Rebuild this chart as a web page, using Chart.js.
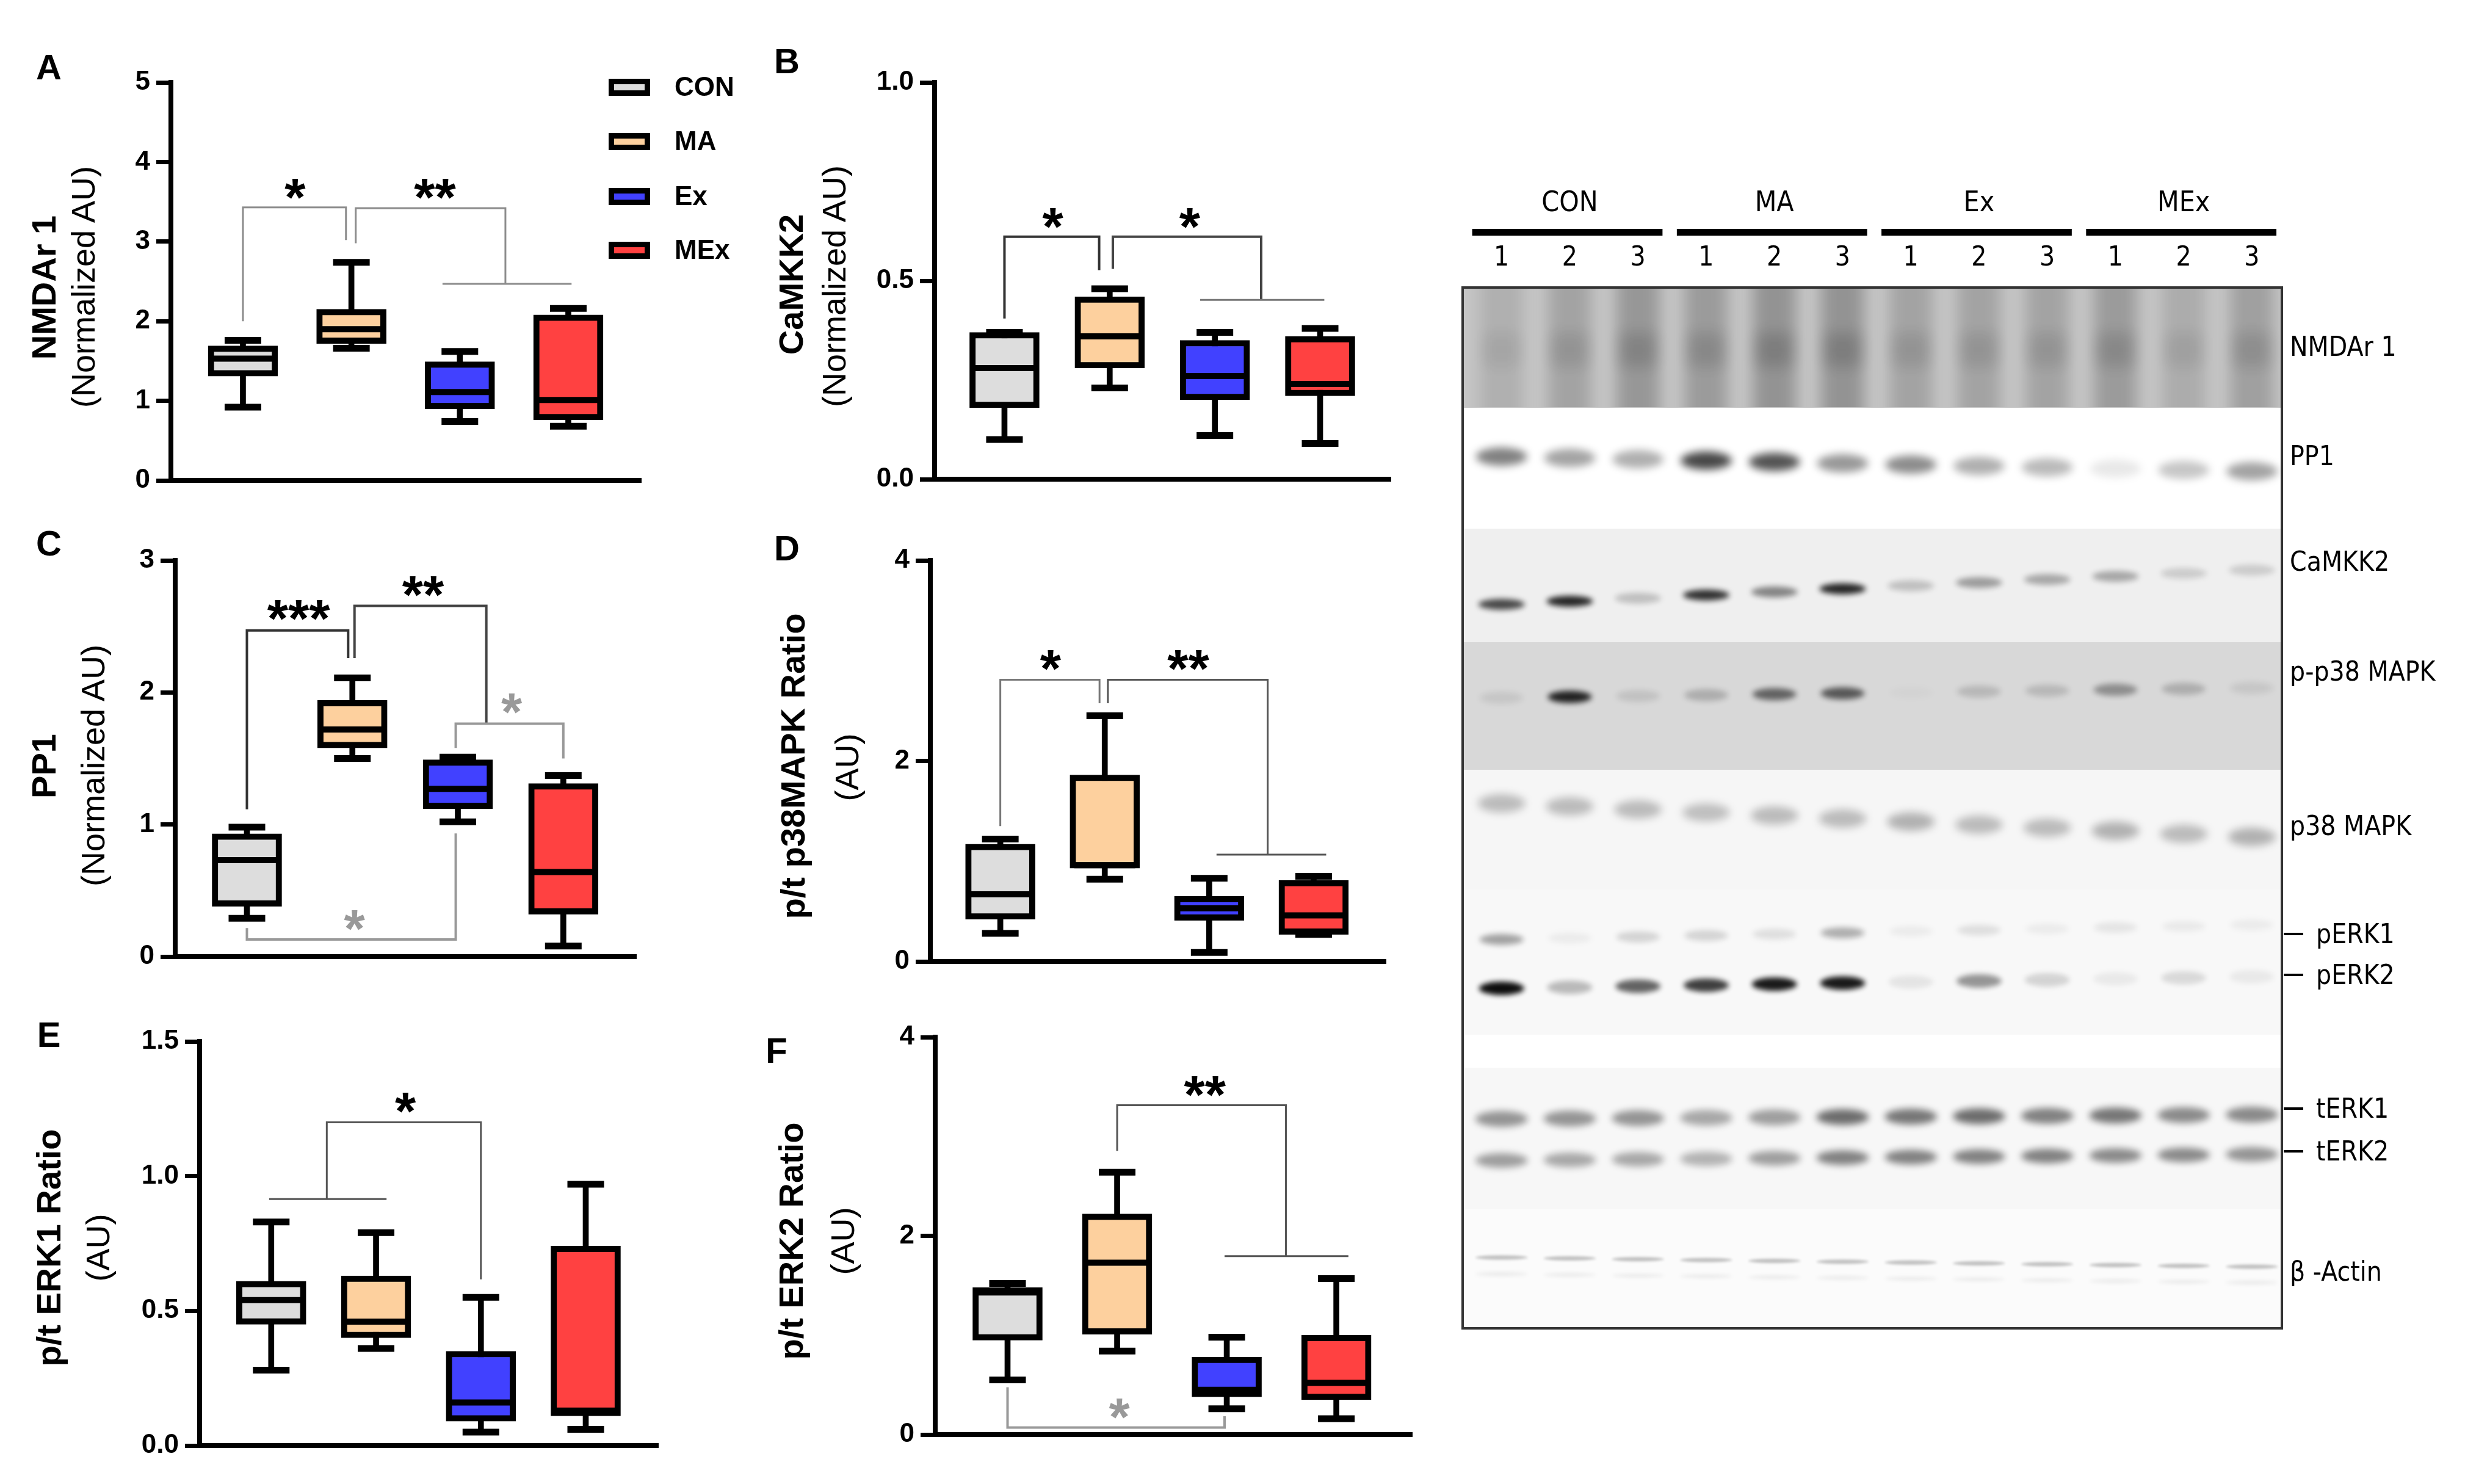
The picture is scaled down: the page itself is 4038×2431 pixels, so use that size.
<!DOCTYPE html>
<html>
<head>
<meta charset="utf-8">
<script src="https://cdn.jsdelivr.net/npm/chart.js@4.4.1/dist/chart.umd.min.js"></script>
<style>
html, body { margin: 0; padding: 0; background: #fff; }
body { width: 4038px; height: 2431px; position: relative; overflow: hidden; font-family: "Liberation Sans", Arial, sans-serif; }
.letter { position: absolute; font-weight: bold; font-size: 58px; line-height: 1; transform: translate(-50%, -50%); }
.ytitle { position: absolute; white-space: nowrap; line-height: 1; transform: translate(-50%, -50%) rotate(-90deg); }
.ytitle.b { font-weight: bold; font-size: 56px; }
.ytitle.n { font-size: 54px; }
</style>
</head>
<body>
<div class="letter" style="left:80px;top:110px">A</div>
<div class="letter" style="left:1289px;top:100px">B</div>
<div class="letter" style="left:80px;top:890px">C</div>
<div class="letter" style="left:1289px;top:898px">D</div>
<div class="letter" style="left:80px;top:1695px">E</div>
<div class="letter" style="left:1272px;top:1721px">F</div>

<div class="ytitle b" style="left:72px;top:471px">NMDAr 1</div>
<div class="ytitle n" style="left:136px;top:470px">(Normalized AU)</div>
<div class="ytitle b" style="left:1296px;top:466px">CaMKK2</div>
<div class="ytitle n" style="left:1366px;top:469px">(Normalized AU)</div>
<div class="ytitle b" style="left:72px;top:1255px">PP1</div>
<div class="ytitle n" style="left:152px;top:1254px">(Normalized AU)</div>
<div class="ytitle b" style="left:1299px;top:1255px">p/t p38MAPK Ratio</div>
<div class="ytitle n" style="left:1387px;top:1257px">(AU)</div>
<div class="ytitle b" style="left:80px;top:2044px">p/t ERK1 Ratio</div>
<div class="ytitle n" style="left:160px;top:2044px">(AU)</div>
<div class="ytitle b" style="left:1296px;top:2033px">p/t ERK2 Ratio</div>
<div class="ytitle n" style="left:1380px;top:2033px">(AU)</div>

<script>
// groups
const groups = ["CON", "MA", "Ex", "MEx"];
const groupColors = ["#dddddd", "#fdd09e", "#4141ff", "#ff4141"];

// box plots: [min, q1, median, q3, max] per group
const nmdar1 = [[0.92, 1.31, 1.53, 1.69, 1.76], [1.66, 1.72, 1.90, 2.15, 2.74], [0.74, 0.90, 1.11, 1.49, 1.62], [0.68, 0.76, 1.01, 2.08, 2.16]];
const camkk2 = [[0.10, 0.18, 0.28, 0.37, 0.37], [0.23, 0.28, 0.36, 0.46, 0.48], [0.11, 0.20, 0.26, 0.35, 0.37], [0.09, 0.21, 0.24, 0.36, 0.38]];
const pp1 = [[0.29, 0.38, 0.73, 0.93, 0.98], [1.50, 1.58, 1.72, 1.94, 2.11], [1.02, 1.12, 1.27, 1.49, 1.51], [0.08, 0.32, 0.64, 1.31, 1.37]];
const p38Ratio = [[0.28, 0.42, 0.67, 1.17, 1.22], [0.82, 0.93, 0.96, 1.86, 2.45], [0.09, 0.41, 0.53, 0.65, 0.83], [0.27, 0.27, 0.46, 0.81, 0.85]];
const erk1Ratio = [[0.28, 0.45, 0.54, 0.61, 0.83], [0.36, 0.40, 0.46, 0.63, 0.79], [0.05, 0.09, 0.16, 0.35, 0.55], [0.06, 0.11, 0.13, 0.74, 0.97]];
const erk2Ratio = [[0.55, 0.95, 1.43, 1.48, 1.52], [0.84, 1.01, 1.73, 2.22, 2.64], [0.26, 0.38, 0.45, 0.78, 0.98], [0.16, 0.35, 0.52, 1.00, 1.57]];

// significance brackets (group position, value) and stars
const nmdar1Brackets = [[[1, 2.0], [1, 3.43], [1.95, 3.43], [1.95, 3.02]], [[2.04, 2.98], [2.04, 3.42], [3.42, 3.42], [3.42, 2.47]], [[2.84, 2.47], [4.03, 2.47]]];
const nmdar1Stars = [["*", 1.48, 3.72], ["**", 2.77, 3.72]];
const camkk2Brackets = [[[1, 0.405], [1, 0.611], [1.90, 0.611], [1.90, 0.527]], [[2.03, 0.53], [2.03, 0.611], [3.44, 0.611], [3.44, 0.452]], [[2.86, 0.452], [4.04, 0.452]]];
const camkk2Stars = [["*", 1.46, 0.67], ["*", 2.76, 0.67]];
const pp1Brackets = [[[1, 1.115], [1, 2.47], [1.96, 2.47], [1.96, 2.26]], [[2.02, 2.26], [2.02, 2.656], [3.27, 2.656], [3.27, 1.764]], [[2.98, 1.58], [2.98, 1.764], [4.0, 1.764], [4.0, 1.50]], [[1, 0.216], [1, 0.13], [2.98, 0.13], [2.98, 0.933]]];
const pp1Stars = [["***", 1.49, 2.66], ["**", 2.67, 2.84], ["*", 3.51, 1.95], ["*", 2.02, 0.31]];
const p38Brackets = [[[1, 1.35], [1, 2.81], [1.95, 2.81], [1.95, 2.575]], [[2.03, 2.575], [2.03, 2.81], [3.56, 2.81], [3.56, 1.065]], [[3.07, 1.065], [4.12, 1.065]]];
const p38Stars = [["*", 1.48, 3.05], ["**", 2.80, 3.05]];
const erk1Brackets = [[[0.98, 0.915], [2.10, 0.915]], [[1.53, 0.915], [1.53, 1.2], [3.0, 1.2], [3.0, 0.617]]];
const erk1Stars = [["*", 2.28, 1.29]];
const erk2Brackets = [[[2.0, 2.855], [2.0, 3.315], [3.54, 3.315], [3.54, 1.796]], [[2.98, 1.796], [4.11, 1.796]], [[1, 0.476], [1, 0.07], [2.98, 0.07], [2.98, 0.184]]];
const erk2Stars = [["**", 2.80, 3.55], ["*", 2.02, 0.31]];

// western blot: band intensity per lane (0..1)
const laneLabels = ["1", "2", "3", "1", "2", "3", "1", "2", "3", "1", "2", "3"];
const nmdarBand = [0.25, 0.40, 0.55, 0.50, 0.60, 0.60, 0.40, 0.40, 0.40, 0.50, 0.30, 0.45];
const pp1Band = [0.55, 0.40, 0.35, 0.80, 0.75, 0.45, 0.50, 0.35, 0.30, 0.10, 0.25, 0.40];
const camkk2Band = [0.70, 0.85, 0.20, 0.80, 0.45, 0.85, 0.20, 0.35, 0.30, 0.30, 0.15, 0.15];
const pp38Band = [0.08, 0.85, 0.10, 0.20, 0.55, 0.60, 0.02, 0.15, 0.15, 0.35, 0.20, 0.08];
const p38Band = [0.30, 0.30, 0.30, 0.28, 0.30, 0.30, 0.35, 0.30, 0.30, 0.35, 0.30, 0.35];
const perk1Band = [0.35, 0.05, 0.15, 0.15, 0.10, 0.30, 0.05, 0.10, 0.05, 0.08, 0.06, 0.05];
const perk2Band = [0.95, 0.25, 0.60, 0.75, 0.90, 0.90, 0.08, 0.40, 0.15, 0.06, 0.12, 0.06];
const terk1Band = [0.50, 0.50, 0.50, 0.40, 0.45, 0.70, 0.65, 0.70, 0.60, 0.65, 0.55, 0.55];
const terk2Band = [0.45, 0.40, 0.40, 0.35, 0.45, 0.60, 0.60, 0.60, 0.60, 0.55, 0.55, 0.50];
const actinBand = [0.30, 0.30, 0.30, 0.30, 0.30, 0.30, 0.30, 0.30, 0.30, 0.30, 0.30, 0.30];

const SANS = '"Liberation Sans", Arial, sans-serif';
const NARROW = '"Liberation Sans Narrow", "DejaVu Sans Condensed", "Liberation Sans", sans-serif';
Chart.defaults.font.family = SANS;

function makeCanvas(left, top, w, h) {
  const cv = document.createElement("canvas");
  cv.width = w; cv.height = h;
  cv.style.cssText = `position:absolute;left:${left}px;top:${top}px;width:${w}px;height:${h}px`;
  document.body.appendChild(cv);
  return cv;
}

function annotator(p) {
  return {
    id: "sig",
    afterDatasetsDraw(chart) {
      const { ctx, scales: { x, y } } = chart;
      p.brackets.forEach((pts, i) => {
        ctx.save();
        ctx.strokeStyle = p.bracketColors[i];
        ctx.lineWidth = p.bracketWidths[i];
        ctx.beginPath();
        pts.forEach(([u, v], j) => {
          const px = x.getPixelForValue(u), py = y.getPixelForValue(v);
          if (j) ctx.lineTo(px, py); else ctx.moveTo(px, py);
        });
        ctx.stroke();
        ctx.restore();
      });
      p.stars.forEach(([txt, u, v], i) => {
        const size = 88;
        ctx.save();
        ctx.font = `bold ${size}px ${SANS}`;
        ctx.fillStyle = p.starColors ? p.starColors[i] : "#000";
        ctx.textAlign = "center";
        ctx.textBaseline = "alphabetic";
        ctx.fillText(txt, x.getPixelForValue(u), y.getPixelForValue(v) + size * 0.58);
        ctx.restore();
      });
      if (p.legend) p.legend(chart);
    }
  };
}

function boxPanel(p) {
  const a = p.area;
  const padL = 230, padT = 100, padB = 50, padR = p.padRight || 30;
  const W = a.right - a.left + padL + padR, H = a.bottom - a.top + padT + padB;
  const cv = makeCanvas(a.left - padL, a.top - padT, W, H);
  const s = p.stats;
  new Chart(cv, {
    type: "bar",
    data: {
      datasets: [
        { type: "bar", data: s.map((r, i) => ({ x: i + 1, y: [r[0], r[4]] })), backgroundColor: "#000", barThickness: 9, grouped: false, order: 4 },
        { type: "bar", data: s.map((r, i) => ({ x: i + 1, y: [r[1], r[3]] })), backgroundColor: groupColors, borderColor: "#000", borderWidth: 10, borderSkipped: false, barThickness: 114, grouped: false, order: 3 },
        { type: "scatter", data: s.map((r, i) => ({ x: i + 1, y: r[2] })), pointStyle: "line", pointRadius: 50, pointBorderWidth: 10, pointBorderColor: "#000", order: 2 },
        { type: "scatter", data: s.flatMap((r, i) => [{ x: i + 1, y: r[0] }, { x: i + 1, y: r[4] }]), pointStyle: "line", pointRadius: 30, pointBorderWidth: 11, pointBorderColor: "#000", order: 1 }
      ]
    },
    options: {
      responsive: false, animation: false, devicePixelRatio: 1, events: [],
      layout: { padding: { left: 20, top: padT, right: padR, bottom: padB } },
      plugins: { legend: { display: false }, tooltip: { enabled: false } },
      scales: {
        x: {
          type: "linear", min: p.xRange[0], max: p.xRange[1], offset: false,
          ticks: { display: false },
          grid: { drawOnChartArea: false, drawTicks: false },
          border: { display: true, color: "#000", width: 8 },
          afterFit: sc => { sc.height = 0; }
        },
        y: {
          min: p.y.min, max: p.y.max,
          ticks: { stepSize: p.y.step, color: "#000", padding: 10, font: { size: 44, weight: "bold" }, callback: v => p.y.dec ? v.toFixed(p.y.dec) : String(v) },
          grid: { drawOnChartArea: false, drawTicks: true, tickLength: 24, tickWidth: 7, color: "#000" },
          border: { display: true, color: "#000", width: 8 },
          afterFit: sc => { sc.width = 210; }
        }
      }
    },
    plugins: [annotator(p)]
  });
}

// legend drawn inside panel A, page coordinates offset by the canvas origin
function legendA(ox, oy) {
  return chart => {
    const ctx = chart.ctx;
    const ys = [143, 232, 322, 410];
    groups.forEach((g, i) => {
      const cy = ys[i] - oy, lx = 997 - ox;
      ctx.fillStyle = "#000";
      ctx.fillRect(lx, cy - 14, 68, 28);
      ctx.fillStyle = groupColors[i];
      ctx.fillRect(lx + 9, cy - 5, 50, 10);
      ctx.font = `bold 44px ${SANS}`;
      ctx.fillStyle = "#000";
      ctx.textAlign = "left";
      ctx.textBaseline = "middle";
      ctx.fillText(g, 1105 - ox, cy + 2);
    });
  };
}

boxPanel({ area: { left: 280, top: 135, right: 1050, bottom: 797 }, xRange: [0.336, 4.67], stats: nmdar1,
  y: { min: 0, max: 5, step: 1 }, brackets: nmdar1Brackets, bracketColors: ["#8c8c8c", "#8c8c8c", "#8c8c8c"], bracketWidths: [3, 3, 3],
  stars: nmdar1Stars, padRight: 200, legend: legendA(280 - 230, 135 - 100) });
boxPanel({ area: { left: 1531, top: 135, right: 2308, bottom: 795 }, xRange: [0.336, 4.67], stats: camkk2,
  y: { min: 0, max: 1, step: 0.5, dec: 1 }, brackets: camkk2Brackets, bracketColors: ["#333", "#444", "#777"], bracketWidths: [4, 4, 3],
  stars: camkk2Stars });
boxPanel({ area: { left: 287, top: 918, right: 1072, bottom: 1577 }, xRange: [0.32, 4.69], stats: pp1,
  y: { min: 0, max: 3, step: 1 }, brackets: pp1Brackets, bracketColors: ["#333", "#444", "#999", "#999"], bracketWidths: [4, 4, 4, 4],
  stars: pp1Stars, starColors: ["#000", "#000", "#999", "#999"] });
boxPanel({ area: { left: 1524, top: 918, right: 2300, bottom: 1585 }, xRange: [0.33, 4.69], stats: p38Ratio,
  y: { min: 0, max: 4, step: 2 }, brackets: p38Brackets, bracketColors: ["#777", "#555", "#555"], bracketWidths: [3, 3, 3],
  stars: p38Stars });
boxPanel({ area: { left: 327, top: 1706, right: 1108, bottom: 2378 }, xRange: [0.317, 4.69], stats: erk1Ratio,
  y: { min: 0, max: 1.5, step: 0.5, dec: 1 }, brackets: erk1Brackets, bracketColors: ["#555", "#555"], bracketWidths: [3, 3],
  stars: erk1Stars });
boxPanel({ area: { left: 1532, top: 1699, right: 2343, bottom: 2360 }, xRange: [0.34, 4.69], stats: erk2Ratio,
  y: { min: 0, max: 4, step: 2 }, brackets: erk2Brackets, bracketColors: ["#555", "#555", "#999"], bracketWidths: [3, 3, 4],
  stars: erk2Stars, starColors: ["#000", "#999"] });

// ---- western blot ----
function bandImage(w, h, alpha, blur, smear) {
  const pad = Math.ceil(blur * 3);
  const c = document.createElement("canvas");
  c.width = w + pad * 2; c.height = smear ? h : h + pad * 2;
  const g = c.getContext("2d");
  g.filter = `blur(${blur}px)`;
  g.fillStyle = `rgba(0,0,0,${alpha})`;
  if (smear) {
    // vertical streak filling the strip, darker across the middle
    g.fillRect(pad, -blur * 3, w, h + blur * 6);
    g.fillStyle = `rgba(0,0,0,${alpha * 0.6})`;
    g.fillRect(pad + 4, h * 0.38, w - 8, h * 0.28);
  } else {
    g.beginPath();
    g.ellipse(c.width / 2, c.height / 2, w / 2, h / 2, 0, 0, Math.PI * 2);
    g.fill();
  }
  return c;
}

// rows: y of band at lane 1 and lane 12 (px below blot top), band size, darkness scale
const blotRows = [
  { band: nmdarBand, y0: 98, y1: 98, w: 70, h: 196, blur: 12, k: 0.42, smear: true },
  { band: pp1Band, y0: 277, y1: 301, w: 84, h: 30, blur: 7, k: 0.9 },
  { band: camkk2Band, y0: 519, y1: 463, w: 76, h: 18, blur: 5, k: 1 },
  { band: pp38Band, y0: 672, y1: 656, w: 72, h: 20, blur: 5, k: 1 },
  { band: p38Band, y0: 845, y1: 900, w: 78, h: 30, blur: 7, k: 0.8 },
  { band: perk1Band, y0: 1068, y1: 1044, w: 72, h: 18, blur: 5, k: 1 },
  { band: perk2Band, y0: 1148, y1: 1129, w: 74, h: 22, blur: 4, k: 1 },
  { band: terk1Band, y0: 1362, y1: 1355, w: 86, h: 26, blur: 6, k: 0.8 },
  { band: terk2Band, y0: 1430, y1: 1420, w: 86, h: 24, blur: 6, k: 0.8 },
  { band: actinBand, y0: 1589, y1: 1604, w: 86, h: 7, blur: 2, k: 0.8 },
  { band: actinBand, y0: 1616, y1: 1630, w: 86, h: 6, blur: 3, k: 0.25 }
];
const blotStrips = [[0, 197, "#c5c5c5"], [197, 395, "#ffffff"], [395, 581, "#efefef"], [581, 790, "#d8d8d8"], [790, 986, "#f6f6f6"], [986, 1224, "#f8f8f8"], [1224, 1278, "#ffffff"], [1278, 1510, "#f7f7f7"], [1510, 1705, "#fbfbfb"]];
const blotLabels = [["NMDAr 1", 101, false], ["PP1", 280, false], ["CaMKK2", 453, false], ["p-p38 MAPK", 633, false], ["p38 MAPK", 886, false],
  ["pERK1", 1059, true], ["pERK2", 1126, true], ["tERK1", 1345, true], ["tERK2", 1415, true], ["\u03b2 -Actin", 1616, false]];

const lanes = laneLabels.map((_, i) => i + 1);
const blotDatasets = blotRows.map(r => {
  const imgs = r.band.map(v => bandImage(r.w, r.h, Math.min(1, v * r.k), r.blur, r.smear));
  return {
    type: "scatter",
    data: lanes.map((l, i) => ({ x: l, y: r.y0 + (r.y1 - r.y0) * i / (lanes.length - 1) })),
    pointStyle: ctx => imgs[ctx.dataIndex],
    pointRadius: 5
  };
});

const blotDecor = {
  id: "blotDecor",
  beforeDatasetsDraw(chart) {
    const { ctx, chartArea: ca, scales: { y } } = chart;
    blotStrips.forEach(([a, b, c]) => {
      ctx.fillStyle = c;
      ctx.fillRect(ca.left, y.getPixelForValue(a), ca.right - ca.left, y.getPixelForValue(b) - y.getPixelForValue(a));
    });
  },
  afterDatasetsDraw(chart) {
    const { ctx, chartArea: ca, scales: { x, y } } = chart;
    ctx.save();
    ctx.strokeStyle = "#333";
    ctx.lineWidth = 4;
    ctx.strokeRect(ca.left, ca.top, ca.right - ca.left, ca.bottom - ca.top);
    ctx.fillStyle = "#000";
    ctx.textAlign = "center";
    ctx.textBaseline = "middle";
    groups.forEach((g, gi) => {
      const l0 = gi * 3 + 1, l1 = gi * 3 + 3;
      ctx.font = `46px ${NARROW}`;
      ctx.fillText(g, x.getPixelForValue((l0 + l1) / 2), ca.top - 137);
      ctx.fillRect(x.getPixelForValue(l0 - 0.43), ca.top - 96, x.getPixelForValue(l1 + 0.36) - x.getPixelForValue(l0 - 0.43), 11);
    });
    ctx.font = `44px ${NARROW}`;
    laneLabels.forEach((t, i) => ctx.fillText(t, x.getPixelForValue(i + 1), ca.top - 47));
    ctx.textAlign = "left";
    ctx.font = `44px ${NARROW}`;
    blotLabels.forEach(([t, v, dash]) => {
      const py = y.getPixelForValue(v);
      if (dash) {
        ctx.fillRect(ca.right + 3, py - 2, 32, 4);
        ctx.fillText(t, ca.right + 56, py + 4);
      } else {
        ctx.fillText(t, ca.right + 13, py);
      }
    });
    ctx.restore();
  }
};

const blotCanvas = makeCanvas(2380, 280, 1658, 1920);
new Chart(blotCanvas, {
  type: "scatter",
  data: { datasets: blotDatasets },
  options: {
    responsive: false, animation: false, devicePixelRatio: 1, events: [],
    layout: { padding: { left: 16, top: 191, right: 300, bottom: 24 } },
    plugins: { legend: { display: false }, tooltip: { enabled: false } },
    scales: {
      x: { type: "linear", min: 0.43, max: 12.44, display: false },
      y: { type: "linear", min: 0, max: 1705, reverse: true, display: false }
    }
  },
  plugins: [blotDecor]
});
</script>
</body>
</html>
